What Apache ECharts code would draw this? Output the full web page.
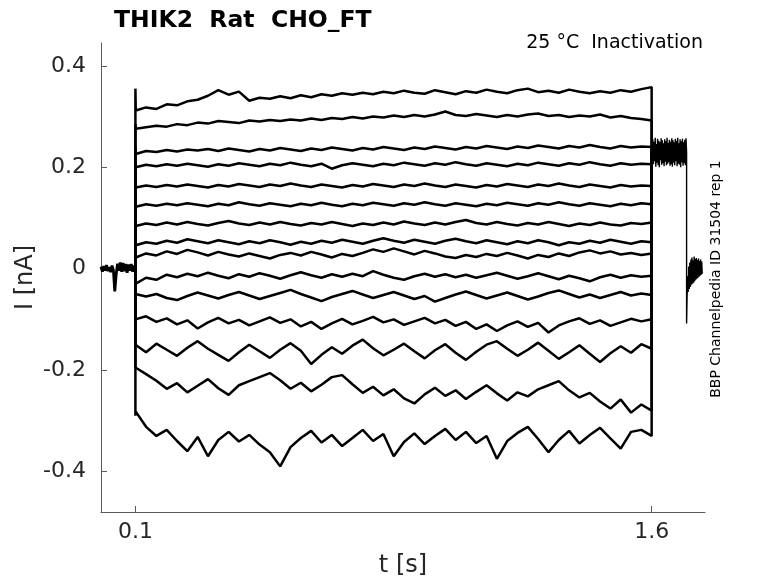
<!DOCTYPE html>
<html>
<head>
<meta charset="utf-8">
<script src="https://cdn.jsdelivr.net/npm/echarts@6.0.0/dist/echarts.min.js"></script>
<style>
  html, body { margin: 0; padding: 0; background: #fff; }
  #main { width: 778px; height: 583px; }
</style>
</head>
<body>
<div id="main"></div>
<script>
// holding current before the conditioning step (0 - 0.1 s), nA
const preValues = [0.004,-0.006,0.005,-0.004,0.007,-0.005,0.003,-0.007,0.006,-0.003,-0.045,-0.012,0.010,-0.004,0.012,-0.006,0.011,-0.005,0.009,-0.008,0.008,-0.004,0.009,-0.006,0.006,-0.002]

// value of each sweep right at the step onset (capacitive jump)
const onsets = [0.355,0.285,0.240,0.210,0.170,0.130,0.090,0.055,0.030,-0.030,-0.050,-0.100,-0.150,-0.195,-0.290]

// conditioning step sweeps, 0.1 - 1.6 s, nA
const sweep01 = [0.312,0.318,0.315,0.324,0.322,0.330,0.333,0.341,0.352,0.343,0.349,0.331,0.337,0.335,0.340,0.336,0.342,0.338,0.344,0.341,0.346,0.343,0.347,0.344,0.349,0.346,0.351,0.347,0.345,0.352,0.348,0.344,0.350,0.347,0.353,0.349,0.346,0.352,0.355,0.348,0.351,0.347,0.353,0.349,0.346,0.350,0.347,0.352,0.349,0.354,0.358]
const sweep02 = [0.276,0.279,0.282,0.280,0.285,0.283,0.288,0.286,0.291,0.289,0.287,0.292,0.290,0.293,0.291,0.294,0.292,0.296,0.293,0.297,0.295,0.299,0.296,0.300,0.298,0.302,0.299,0.303,0.300,0.304,0.310,0.303,0.301,0.305,0.302,0.299,0.303,0.300,0.304,0.306,0.301,0.303,0.299,0.302,0.300,0.304,0.298,0.301,0.297,0.295,0.292]
const sweep03 = [0.226,0.232,0.230,0.234,0.231,0.235,0.233,0.236,0.232,0.237,0.234,0.231,0.236,0.233,0.238,0.235,0.232,0.237,0.234,0.239,0.236,0.233,0.238,0.235,0.240,0.237,0.234,0.239,0.236,0.241,0.238,0.235,0.240,0.237,0.242,0.239,0.236,0.241,0.238,0.243,0.240,0.237,0.242,0.239,0.244,0.240,0.237,0.242,0.239,0.241,0.240]
const sweep04 = [0.200,0.205,0.202,0.206,0.203,0.207,0.204,0.201,0.206,0.203,0.208,0.205,0.202,0.207,0.204,0.209,0.205,0.202,0.207,0.197,0.204,0.208,0.205,0.202,0.207,0.204,0.209,0.206,0.203,0.208,0.205,0.210,0.206,0.203,0.208,0.205,0.202,0.207,0.204,0.209,0.206,0.203,0.208,0.205,0.210,0.206,0.203,0.208,0.205,0.207,0.206]
const sweep05 = [0.160,0.164,0.161,0.165,0.162,0.166,0.163,0.160,0.165,0.162,0.167,0.164,0.161,0.166,0.163,0.168,0.164,0.161,0.166,0.163,0.160,0.165,0.162,0.167,0.164,0.161,0.166,0.163,0.168,0.164,0.161,0.166,0.163,0.160,0.165,0.162,0.167,0.164,0.161,0.166,0.163,0.168,0.164,0.161,0.166,0.163,0.160,0.165,0.162,0.164,0.163]
const sweep06 = [0.122,0.127,0.124,0.128,0.125,0.129,0.126,0.123,0.128,0.125,0.131,0.127,0.124,0.129,0.126,0.123,0.128,0.125,0.130,0.126,0.123,0.128,0.125,0.130,0.127,0.124,0.129,0.126,0.131,0.127,0.124,0.129,0.126,0.123,0.128,0.125,0.130,0.127,0.124,0.129,0.126,0.131,0.127,0.124,0.129,0.126,0.123,0.128,0.125,0.129,0.127]
const sweep07 = [0.084,0.089,0.086,0.091,0.087,0.092,0.088,0.085,0.090,0.094,0.089,0.086,0.091,0.087,0.092,0.088,0.085,0.090,0.087,0.092,0.088,0.084,0.089,0.086,0.091,0.087,0.093,0.089,0.086,0.091,0.087,0.092,0.096,0.090,0.087,0.092,0.088,0.085,0.090,0.087,0.092,0.088,0.084,0.089,0.086,0.091,0.087,0.085,0.090,0.088,0.091]
const sweep08 = [0.046,0.052,0.049,0.055,0.051,0.058,0.054,0.050,0.056,0.052,0.048,0.054,0.050,0.056,0.052,0.047,0.053,0.049,0.055,0.051,0.057,0.053,0.049,0.055,0.060,0.055,0.051,0.057,0.053,0.049,0.055,0.059,0.054,0.050,0.056,0.052,0.048,0.054,0.050,0.056,0.052,0.046,0.052,0.049,0.055,0.051,0.057,0.053,0.049,0.054,0.052]
const sweep09 = [0.022,0.030,0.026,0.034,0.029,0.037,0.032,0.026,0.033,0.028,0.024,0.030,0.025,0.020,0.027,0.031,0.026,0.033,0.028,0.022,0.029,0.025,0.031,0.038,0.033,0.040,0.034,0.028,0.035,0.030,0.024,0.021,0.027,0.023,0.029,0.025,0.031,0.026,0.020,0.027,0.023,0.030,0.025,0.032,0.036,0.030,0.034,0.028,0.031,0.027,0.030]
const sweep10 = [-0.030,-0.018,-0.022,-0.012,-0.017,-0.010,-0.015,-0.008,-0.014,-0.019,-0.011,-0.016,-0.009,-0.014,-0.020,-0.013,-0.007,-0.013,-0.018,-0.011,-0.016,-0.010,-0.015,-0.005,-0.012,-0.018,-0.022,-0.015,-0.010,-0.016,-0.011,-0.017,-0.012,-0.018,-0.013,-0.008,-0.014,-0.020,-0.015,-0.009,-0.015,-0.021,-0.014,-0.019,-0.025,-0.017,-0.012,-0.018,-0.013,-0.016,-0.014]
const sweep11 = [-0.048,-0.055,-0.050,-0.058,-0.062,-0.054,-0.047,-0.053,-0.059,-0.052,-0.046,-0.053,-0.060,-0.054,-0.048,-0.042,-0.050,-0.057,-0.064,-0.056,-0.050,-0.044,-0.051,-0.058,-0.052,-0.046,-0.053,-0.060,-0.054,-0.065,-0.058,-0.051,-0.045,-0.052,-0.059,-0.053,-0.047,-0.054,-0.061,-0.055,-0.048,-0.043,-0.050,-0.057,-0.051,-0.058,-0.052,-0.046,-0.053,-0.049,-0.052]
const sweep12 = [-0.100,-0.094,-0.105,-0.098,-0.110,-0.102,-0.118,-0.106,-0.097,-0.108,-0.101,-0.112,-0.104,-0.096,-0.107,-0.100,-0.114,-0.105,-0.119,-0.108,-0.099,-0.110,-0.103,-0.095,-0.106,-0.100,-0.111,-0.104,-0.097,-0.108,-0.101,-0.113,-0.105,-0.119,-0.110,-0.123,-0.112,-0.104,-0.115,-0.107,-0.126,-0.112,-0.104,-0.098,-0.109,-0.102,-0.113,-0.106,-0.099,-0.104,-0.100]
const sweep13 = [-0.152,-0.165,-0.148,-0.160,-0.172,-0.156,-0.143,-0.158,-0.170,-0.182,-0.165,-0.150,-0.163,-0.176,-0.160,-0.147,-0.162,-0.188,-0.170,-0.155,-0.168,-0.152,-0.140,-0.157,-0.171,-0.160,-0.148,-0.163,-0.177,-0.161,-0.149,-0.166,-0.180,-0.164,-0.150,-0.143,-0.158,-0.172,-0.160,-0.146,-0.162,-0.178,-0.165,-0.151,-0.168,-0.184,-0.167,-0.153,-0.166,-0.149,-0.158]
const sweep14 = [-0.195,-0.208,-0.221,-0.237,-0.226,-0.244,-0.231,-0.218,-0.236,-0.249,-0.230,-0.222,-0.214,-0.206,-0.220,-0.237,-0.225,-0.242,-0.229,-0.214,-0.210,-0.228,-0.245,-0.233,-0.250,-0.238,-0.256,-0.266,-0.248,-0.235,-0.251,-0.240,-0.257,-0.243,-0.230,-0.246,-0.260,-0.244,-0.252,-0.238,-0.230,-0.222,-0.240,-0.254,-0.245,-0.262,-0.276,-0.258,-0.284,-0.268,-0.280]
const sweep15 = [-0.282,-0.312,-0.330,-0.318,-0.340,-0.360,-0.332,-0.370,-0.338,-0.322,-0.341,-0.328,-0.347,-0.362,-0.390,-0.352,-0.334,-0.320,-0.343,-0.328,-0.350,-0.334,-0.318,-0.340,-0.326,-0.370,-0.342,-0.325,-0.346,-0.330,-0.316,-0.338,-0.322,-0.344,-0.330,-0.375,-0.340,-0.324,-0.312,-0.336,-0.362,-0.338,-0.320,-0.345,-0.328,-0.314,-0.335,-0.355,-0.322,-0.318,-0.330]

// test pulse (1.6 - 1.7 s), all sweeps overlap in one band
const testValues = [0.232,0.203,0.255,0.206,0.250,0.212,0.258,0.201,0.246,0.209,0.256,0.204,0.252,0.200,0.249,0.214,0.257,0.205,0.253,0.208,0.247,0.202,0.255,0.211,0.251,0.204,0.258,0.207,0.248,0.210,0.254,0.203,0.250,0.206,0.257,0.201,0.253,0.209,0.249,0.204,0.256,0.212,0.252,0.202,0.258,0.207,0.247,0.205,0.255,0.200,0.251,0.210,0.256,0.203,0.249,0.208,0.254,0.204,0.257,0.230]
// tail after the test pulse (1.7 - 1.747 s)
const tailValues = [-0.108,-0.052,-0.015,-0.046,0.004,-0.040,0.012,-0.036,0.018,-0.032,0.022,-0.030,0.016,-0.028,0.024,-0.025,0.019,-0.022,0.021,-0.020,0.017,-0.018,0.020,-0.016,0.015,-0.014,0.018,-0.012,0.014,-0.010]

const xTicks = [0.1, 1.6]
const yTicks = [-0.4, -0.2, 0, 0.2, 0.4]

const sweeps = [sweep01, sweep02, sweep03, sweep04, sweep05, sweep06, sweep07, sweep08,
  sweep09, sweep10, sweep11, sweep12, sweep13, sweep14, sweep15]

// spread samples evenly between t0 and t1
const sampled = (values, t0, t1) =>
  values.map((v, i) => [t0 + i * (t1 - t0) / (values.length - 1), v])

const font = 'DejaVu Sans'

const makeLine = (data, width) => ({
  type: 'line',
  data: data,
  showSymbol: false,
  silent: true,
  lineStyle: { color: '#000', width: width },
  z: 3
})

const series = sweeps.map((values, k) => makeLine([
  [0.1, 0],
  [0.1, onsets[k]],
  ...sampled(values, 0.101, 1.6),
  [1.6, testValues[0]]
], 2.5))
series.push(makeLine(sampled(preValues, 0, 0.1), 2.8))
series.push(makeLine(sampled(testValues, 1.6, 1.7015), 1.4))
series.push(makeLine([[1.7015, testValues[testValues.length - 1]], ...sampled(tailValues, 1.7015, 1.747)], 1.4))

const myChart = echarts.init(document.getElementById('main'))

const option = {
  animation: false,
  backgroundColor: '#fff',
  title: [
    {
      text: 'THIK2  Rat  CHO_FT',
      left: 109,
      top: 4,
      textStyle: { fontFamily: font, fontSize: 23.5, fontWeight: 'bold', color: '#000' }
    },
    {
      text: '25 °C  Inactivation',
      right: 70,
      top: 29,
      textStyle: { fontFamily: font, fontSize: 19, fontWeight: 'normal', color: '#000' }
    }
  ],
  grid: { left: 101, right: 73, top: 43, bottom: 71, outerBoundsMode: 'none' },
  xAxis: {
    type: 'value',
    min: 0,
    max: 1.755,
    name: 't [s]',
    nameLocation: 'middle',
    nameGap: 42,
    nameMoveOverlap: false,
    nameTextStyle: { fontFamily: font, fontSize: 24, color: '#262626' },
    axisLine: { onZero: false, lineStyle: { color: '#5a5a5a', width: 1 } },
    axisTick: { inside: true, length: 6, customValues: xTicks, lineStyle: { color: '#5a5a5a' } },
    axisLabel: { customValues: xTicks, margin: 9, fontFamily: font, fontSize: 22, color: '#262626' },
    splitLine: { show: false }
  },
  yAxis: {
    type: 'value',
    min: -0.48,
    max: 0.445,
    name: 'I [nA]',
    nameLocation: 'middle',
    nameGap: 63,
    nameMoveOverlap: false,
    nameTextStyle: { fontFamily: font, fontSize: 24, color: '#262626' },
    axisLine: { show: true, onZero: false, lineStyle: { color: '#5a5a5a', width: 1 } },
    axisTick: { show: true, inside: true, length: 6, customValues: yTicks, lineStyle: { color: '#5a5a5a' } },
    axisLabel: { customValues: yTicks, margin: 15, fontFamily: font, fontSize: 22, color: '#262626' },
    splitLine: { show: false }
  },
  graphic: [
    {
      type: 'text',
      x: 716,
      y: 279,
      rotation: Math.PI / 2,
      style: {
        text: 'BBP Channelpedia ID 31504 rep 1',
        fontFamily: font,
        fontSize: 14,
        fill: '#000',
        align: 'center',
        verticalAlign: 'middle'
      }
    }
  ],
  series: series
}

myChart.setOption(option)
</script>
</body>
</html>
